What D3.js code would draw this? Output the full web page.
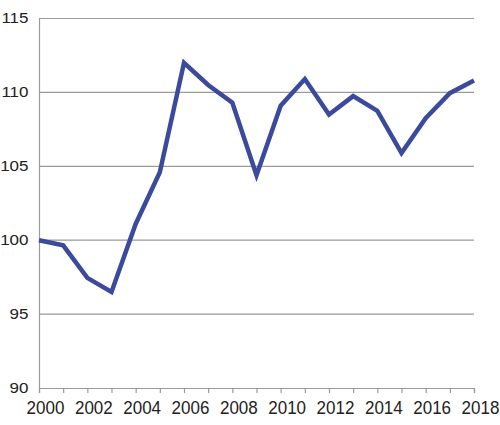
<!DOCTYPE html>
<html>
<head>
<meta charset="utf-8">
<script src="https://cdn.jsdelivr.net/npm/d3@7"></script>
<style>
  body { margin: 0; background: #fff; }
  svg { display: block; }
</style>
</head>
<body>
<svg id="chart"></svg>
<script>
// Data
const years = [2000, 2001, 2002, 2003, 2004, 2005, 2006, 2007, 2008, 2009,
               2010, 2011, 2012, 2013, 2014, 2015, 2016, 2017, 2018];
const values = [100.0, 99.65, 97.45, 96.5, 101.1, 104.6, 112.0, 110.5, 109.3, 104.4,
                109.1, 110.9, 108.5, 109.75, 108.75, 105.9, 108.25, 109.95, 110.8];
const yTicks = [90, 95, 100, 105, 110, 115];
const xLabels = [2000, 2002, 2004, 2006, 2008, 2010, 2012, 2014, 2016, 2018];

const W = 500, H = 425;
const margin = { top: 18.5, right: 26, bottom: 37, left: 39 };
const width = W - margin.left - margin.right;
const height = H - margin.top - margin.bottom;

const svg = d3.select("#chart")
    .attr("width", W)
    .attr("height", H)
    .append("g")
    .attr("transform", `translate(${margin.left},${margin.top})`);

const x = d3.scaleLinear().domain([2000, 2018]).range([0, width]);
const y = d3.scaleLinear().domain([90, 115]).range([height, 0]);

// horizontal gridlines
svg.selectAll(".grid")
    .data(yTicks.filter(d => d > 90))
    .enter()
    .append("line")
    .attr("x1", 0)
    .attr("x2", width)
    .attr("y1", d => y(d))
    .attr("y2", d => y(d))
    .attr("stroke", "#9a9a9a")
    .attr("stroke-width", 1.2);

// y axis
const yAxis = svg.append("g")
    .call(d3.axisLeft(y).tickValues(yTicks).tickSize(0));
yAxis.select(".domain").attr("stroke", "#9a9a9a").attr("stroke-width", 1.2);
yAxis.selectAll("text")
    .attr("x", 0)
    .attr("dy", null)
    .attr("transform", "translate(-10.5,4) scale(1,0.88)")
    .style("font-family", "Liberation Sans, Arial, sans-serif")
    .style("font-size", "17px")
    .attr("fill", "#222");

// x axis: a tick for every year, a label every second year
const xAxis = svg.append("g")
    .attr("transform", `translate(0,${height})`)
    .call(d3.axisBottom(x).tickValues(years).tickSize(5)
        .tickFormat(d => xLabels.includes(d) ? String(d) : ""));
xAxis.select(".domain").attr("stroke", "#9a9a9a").attr("stroke-width", 1.2);
xAxis.selectAll(".tick line").attr("stroke", "#9a9a9a").attr("stroke-width", 1.2);
xAxis.selectAll("text")
    .attr("y", 0)
    .attr("dy", null)
    .attr("transform", "translate(6,25.5) scale(1,1.1)")
    .style("font-family", "Liberation Sans, Arial, sans-serif")
    .style("font-size", "17px")
    .attr("fill", "#222");

// the line
const line = d3.line()
    .x((d, i) => x(years[i]))
    .y(d => y(d));

svg.append("path")
    .datum(values)
    .attr("fill", "none")
    .attr("stroke", "#3c4a9c")
    .attr("stroke-width", 4.5)
    .attr("stroke-linejoin", "miter")
    .attr("d", line);
</script>
</body>
</html>
